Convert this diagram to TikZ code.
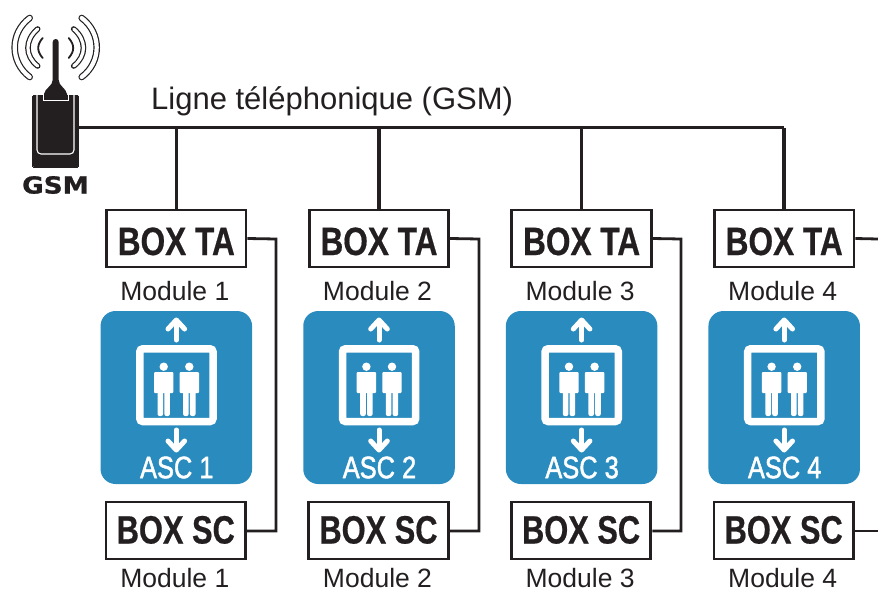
\documentclass[tikz,border=0pt]{standalone}
\usepackage{fontspec}
\setmainfont{Liberation Sans}
\newfontfamily\boxfont[FakeStretch=0.80,FakeBold=0.5]{Liberation Sans Bold}
\newfontfamily\ascfont[FakeStretch=0.82,FakeBold=1.4]{Liberation Sans}
\newfontfamily\gsmfont[FakeStretch=1.12,FakeBold=1]{DejaVu Sans Bold}
\definecolor{ink}{HTML}{231F20}
\definecolor{liftblue}{HTML}{2A8CBE}
\tikzset{
  boxnode/.style={draw=ink,line width=2.8pt,fill=white,minimum width=139.5pt,minimum height=57pt,inner sep=0pt,text=ink,font=\boxfont\fontsize{39.5}{39.5}\selectfont},
  modlabel/.style={inner sep=0pt,text=ink,font=\fontsize{26.5}{27}\selectfont},
  ascl/.style={inner sep=0pt,text=white,font=\ascfont\fontsize{31}{31}\selectfont},
  busline/.style={draw=ink,line width=3.6pt},
  sideline/.style={draw=ink,line width=2.8pt},
  wave/.style={line cap=round},
  liftarrow/.style={draw=white,line width=5pt,line cap=round,line join=round},
}
\newcommand{\person}[1]{%
  \fill[white] (#1,366.7) circle (4.2);
  \fill[white,rounded corners=1pt] (#1-9.7,372) rectangle (#1+9.7,393);
  \fill[white,rounded corners=2pt] (#1-6.2,388) rectangle (#1-0.6,416);
  \fill[white,rounded corners=2pt] (#1+0.6,388) rectangle (#1+6.2,416);
}
\begin{document}
\begin{tikzpicture}[x=1pt,y=-1pt]
\useasboundingbox (0,0) rectangle (878,589);
% GSM device
\node[draw=ink,fill=ink,line width=0pt,minimum width=45.5pt,minimum height=72pt,inner sep=0pt,rounded corners=1pt] (gsm) at (55.7,131) {};
\draw[white,line width=1.1pt,rounded corners=4pt] (37,95) -- (37,154) -- (74,154) -- (74,95);
\fill[ink] (52.7,42) -- (52.7,80) .. controls (52.7,86) and (45,88) .. (44,94) -- (44,100) -- (67,100) -- (67,94) .. controls (66,88) and (58.7,86) .. (58.7,80) -- (58.7,42) arc (0:-180:3);
\draw[white,line width=1pt] (43,95) -- (43,100.5) -- (68,100.5) -- (68,95);
\foreach \m in {1,-1}{
  \begin{scope}[shift={(55.7,0)},xscale=\m]
    \draw[wave,ink,line width=6.6pt] (-26,18) .. controls (-46,33) and (-46,62) .. (-26,77);
    \draw[wave,white,line width=4.2pt] (-26,18) .. controls (-46,33) and (-46,62) .. (-26,77);
    \draw[wave,ink,line width=5.6pt] (-18,29) .. controls (-31,40) and (-31,56) .. (-18,66);
    \draw[wave,white,line width=3.2pt] (-18,29) .. controls (-31,40) and (-31,56) .. (-18,66);
    \draw[wave,ink,line width=1.8pt] (-13,38) .. controls (-19,45) and (-19,51) .. (-13,58);
  \end{scope}
}
\node[inner sep=0pt,text=ink,font=\gsmfont\fontsize{23.5}{23.5}\selectfont] (gsmlabel) at (55.5,185) {GSM};
\node[modlabel,anchor=base west,font=\fontsize{31}{31}\selectfont] (ligne) at (151,109) {Ligne téléphonique (GSM)};
% Bus end
\coordinate (busend) at (784,127.5);
\coordinate (busstart) at (gsm.east |- busend);
\draw[busline] (busstart) -- (busend);
% Modules
\foreach \i/\cx/\ta/\sc in {1/176.3/176.3/175.8,2/379/379/378.5,3/581.6/581.6/581.1,4/784.2/784.2/783.7}{
  \node[boxnode,text height=33pt,text depth=0pt] (ta\i) at (\ta,238.5) {BOX TA};
  \node[boxnode,text height=26pt,text depth=0pt] (sc\i) at (\sc,530.5) {\scalebox{0.975}[1]{BOX SC}};
  \node[modlabel] (mta\i) at (\cx-1.5,291) {Module \i};
  \node[modlabel] (msc\i) at (\cx-1.5,578) {Module \i};
  \node[fill=liftblue,rounded corners=15pt,minimum width=151.5pt,minimum height=173pt,inner sep=0pt] (lift\i) at (\cx,397.5) {};
  \begin{scope}[shift={(\cx-176.3,0)}]
    \draw[white,line width=7.5pt,rounded corners=3pt] (139.8,348.8) rectangle (213,421.5);
    \person{163.7}
    \person{189.3}
    \draw[liftarrow] (176.3,340) -- (176.3,321);
    \draw[liftarrow] (168,329) -- (176.3,320) -- (184.6,329);
    \draw[liftarrow] (176.3,430) -- (176.3,449);
    \draw[liftarrow] (168,441) -- (176.3,450) -- (184.6,441);
  \end{scope}
  \node[ascl] (asc\i) at (\cx+0.5,467.5) {ASC \i};
  \draw[busline] (ta\i.north |- busend) -- (ta\i.north);
}
% Side links
\foreach \i/\nx in {1/276,2/479,3/681}{
  \coordinate (bend\i) at (\nx,239);
  \coordinate (bendb\i) at (\nx,531);
  \draw[sideline] (ta\i.east) -- (bend\i) -- (bendb\i) -- (sc\i.east |- bendb\i);
}
\coordinate (outa) at (878,239);
\coordinate (outb) at (878,531);
\draw[sideline] (ta4.east) -- (outa);
\draw[sideline] (sc4.east |- outb) -- (outb);
\end{tikzpicture}
\end{document}
